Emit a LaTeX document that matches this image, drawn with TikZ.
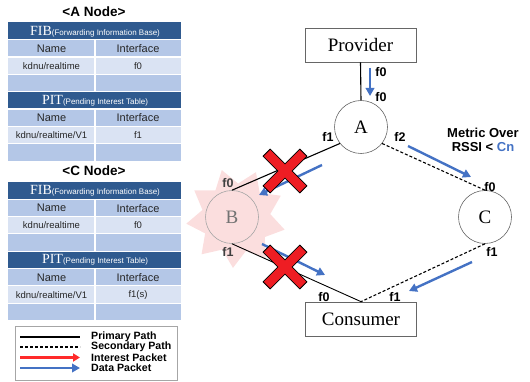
\documentclass[tikz,border=0pt]{standalone}
\usepackage{fontspec}
\setmainfont{Liberation Serif}
\newfontfamily\sansf{Liberation Sans}
\usetikzlibrary{shapes.geometric,arrows.meta}
\definecolor{hdr}{HTML}{2F5A8F}
\definecolor{rowA}{HTML}{B4C7E7}
\definecolor{rowB}{HTML}{DAE3F3}
\definecolor{pblue}{HTML}{4472C4}
\definecolor{xred}{HTML}{EE1D23}
\definecolor{lred}{HTML}{FF2A2A}
\definecolor{burstpink}{HTML}{FBDEDE}
\definecolor{txt}{HTML}{262626}
\tikzset{
  celltxt/.style={font=\sansf\fontsize{11}{12}\selectfont, text=txt, inner sep=0},
  datatxt/.style={font=\sansf\fontsize{9.5}{10}\selectfont, text=txt, inner sep=0},
  hdrtxt/.style={text=white, inner sep=0},
  titletxt/.style={font=\sansf\bfseries\fontsize{13.5}{14}\selectfont, inner sep=0},
  boxnode/.style={draw=gray!80!black, line width=0.7, minimum width=111, minimum height=34, inner sep=0, font=\fontsize{19}{20}\selectfont},
  cnode/.style={circle, draw=gray!80!black, line width=0.6, minimum size=53, inner sep=0, font=\fontsize{19}{20}\selectfont},
  lbl/.style={font=\sansf\bfseries\fontsize{12.5}{13}\selectfont, inner sep=0},
  primary/.style={draw=black, line width=1.1},
  secondary/.style={draw=black, line width=1.1, dash pattern=on 3pt off 2pt},
  darrow/.style={draw=pblue, line width=2.4, -{Triangle[length=8pt,width=8.5pt]}},
  iarrow/.style={draw=lred, line width=2.2, -{Triangle[length=7pt,width=8pt]}},
  legtxt/.style={font=\sansf\bfseries\fontsize{10.6}{11}\selectfont, anchor=west, inner sep=0},
  redx/.pic={\filldraw[fill=xred, draw=black, line width=0.8, rotate=45]
     (26,-5) -- (26,5) -- (5,5) -- (5,26) -- (-5,26) -- (-5,5) -- (-26,5) -- (-26,-5)
     -- (-5,-5) -- (-5,-26) -- (5,-26) -- (5,-5) -- cycle;}
}
\newcommand\ndtable[6]{%
  \node[titletxt] (#2title) at (94,#1-11) {#3};
  \fill[hdr] (8,#1) rectangle (181,#1+17.3);
  \fill[hdr] (8,#1+69.2) rectangle (181,#1+86.5);
  \foreach \k/\c in {1/rowA,2/rowB,3/rowA,5/rowA,6/rowB,7/rowA}{
    \fill[\c] (8,#1+17.3*\k) rectangle (181,#1+17.3*\k+17.3);
    \draw[white, line width=1.2] (95,#1+17.3*\k) -- (95,#1+17.3*\k+17.3);
  }
  \foreach \k in {1,...,7}{
    \draw[white, line width=1.2] (8,#1+17.3*\k) -- (181,#1+17.3*\k);
  }
  \node[hdrtxt] (#2fib) at (95,#1+8.8) {\fontsize{14}{15}\selectfont FIB\sansf\fontsize{8}{9}\selectfont(Forwarding Information Base)};
  \node[celltxt] (#2n1) at (51.5,#1+26.2) {Name};
  \node[celltxt] (#2i1) at (138,#1+26.2) {Interface};
  \node[datatxt] (#2d1) at (51.5,#1+43.5) {kdnu/realtime};
  \node[datatxt] (#2f1) at (138,#1+43.5) {#4};
  \node[hdrtxt] (#2pit) at (95,#1+78.1) {\fontsize{14}{15}\selectfont PIT\sansf\fontsize{8}{9}\selectfont(Pending Interest Table)};
  \node[celltxt] (#2n2) at (51.5,#1+95.4) {Name};
  \node[celltxt] (#2i2) at (138,#1+95.4) {Interface};
  \node[datatxt] (#2d2) at (51.5,#1+112.7) {kdnu/realtime/V1};
  \node[datatxt] (#2f2) at (138,#1+112.7) {#5};
}
\begin{document}
\begin{tikzpicture}[x=1pt,y=-1pt]
\useasboundingbox (0,0) rectangle (530,382);
% tables
\ndtable{22.5}{ta}{<A Node>}{f0}{f1}{}
\ndtable{182}{tc}{<C Node>}{f0}{f1(s)}{}
% legend
\node[draw=gray!70, line width=0.7, minimum width=162, minimum height=54, inner sep=0] (legbox) at (96,353) {};
\coordinate (l1a) at (20,337); \coordinate (l1b) at (80,337);
\coordinate (l2a) at (20,347); \coordinate (l2b) at (80,347);
\coordinate (l3a) at (20,357.5); \coordinate (l3b) at (80,357.5);
\coordinate (l4a) at (20,368); \coordinate (l4b) at (80,368);
\draw[primary] (l1a) -- (l1b);
\draw[secondary] (l2a) -- (l2b);
\draw[iarrow] (l3a) -- (l3b);
\draw[darrow, line width=2.2] (l4a) -- (l4b);
\node[legtxt] (lt1) at (91,337) {Primary Path};
\node[legtxt] (lt2) at (91,347) {Secondary Path};
\node[legtxt] (lt3) at (91,357.5) {Interest Packet};
\node[legtxt] (lt4) at (91,368) {Data Packet};
% network
\node[star, star points=9, star point ratio=1.45, rotate=-23.5, fill=burstpink, minimum size=100, inner sep=0] (burst) at (236,218) {};
\node[boxnode] (prov) at (360.5,45) {Provider};
\node[boxnode] (cons) at (361,319) {Consumer};
\node[cnode] (A) at (361,127) {A};
\node[cnode, draw=gray!70, text=gray!90!black] (B) at (232,217) {B};
\node[cnode] (C) at (485,217) {C};
\draw[primary] (prov.south) -- (A.north);
\draw[primary] (A.218) -- (B.north);
\draw[primary, line width=0.9] (B.south) -- (cons.north);
\draw[secondary] (A.322) -- (C.north);
\draw[secondary] (C.south) -- (cons.north);
% labels
\node[lbl] (pf0) at (381,72) {f0};
\node[lbl] (af0) at (381,97) {f0};
\node[lbl] (af1) at (328,137) {f1};
\node[lbl] (af2) at (400,137) {f2};
\node[lbl, text=black!75] (bf0) at (228,183) {f0};
\node[lbl, text=black!75] (bf1) at (228,252) {f1};
\node[lbl] (cf0) at (490,187) {f0};
\node[lbl] (cf1) at (492,252) {f1};
\node[lbl] (kf0) at (324,297) {f0};
\node[lbl] (kf1) at (395,297) {f1};
\node[lbl, align=center, font=\sansf\bfseries\fontsize{13}{14.5}\selectfont] (metric) at (483,140) {Metric Over\\RSSI < \textcolor{pblue}{Cn}};
% data arrows
\coordinate (d1a) at (370,68); \coordinate (d1b) at (370,96);
\coordinate (d2a) at (322,165); \coordinate (d2b) at (259,195);
\coordinate (d3a) at (408,146); \coordinate (d3b) at (471,177);
\coordinate (d4a) at (262,244); \coordinate (d4b) at (325,275);
\coordinate (d5a) at (472,262); \coordinate (d5b) at (409,291);
\draw[darrow] (d1a) -- (d1b);
\draw[darrow] (d2a) -- (d2b);
\draw[darrow] (d3a) -- (d3b);
\draw[darrow] (d4a) -- (d4b);
\draw[darrow] (d5a) -- (d5b);
% red crosses
\pic at (285,171) {redx};
\pic at (285,267) {redx};
\end{tikzpicture}
\end{document}
